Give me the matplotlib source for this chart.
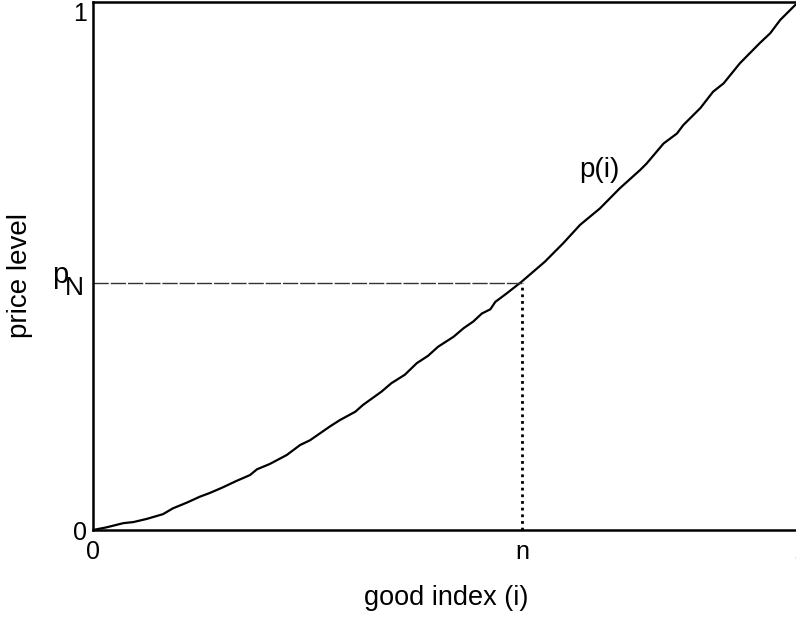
import matplotlib
matplotlib.use("Agg")
import matplotlib.pyplot as plt

# curve p(i) (x: good index 0..1, y: price level 0..1)
good_index = [0.000, 0.019, 0.043, 0.057, 0.076, 0.099, 0.113, 0.133, 0.151, 0.165,
              0.184, 0.203, 0.222, 0.232, 0.250, 0.274, 0.293, 0.307, 0.335, 0.349,
              0.371, 0.382, 0.408, 0.422, 0.441, 0.458, 0.474, 0.488, 0.510, 0.524,
              0.538, 0.550, 0.562, 0.569, 0.585, 0.606, 0.639, 0.665, 0.689, 0.717,
              0.745, 0.774, 0.783, 0.807, 0.826, 0.835, 0.859, 0.877, 0.892, 0.915,
              0.943, 0.958, 0.972, 0.993, 1.000]
price_level = [0.000, 0.005, 0.013, 0.015, 0.021, 0.030, 0.041, 0.052, 0.063, 0.070,
               0.081, 0.093, 0.104, 0.115, 0.125, 0.142, 0.161, 0.170, 0.196, 0.208,
               0.224, 0.237, 0.262, 0.278, 0.294, 0.316, 0.330, 0.347, 0.366, 0.382,
               0.395, 0.410, 0.418, 0.432, 0.448, 0.470, 0.508, 0.543, 0.578, 0.609,
               0.647, 0.682, 0.694, 0.732, 0.751, 0.767, 0.799, 0.830, 0.846, 0.884,
               0.922, 0.941, 0.966, 0.994, 1.000]
n_value = 0.607
p_N = 0.468

x_ticks = [0, n_value, 1]
x_tick_labels = ["0", "n", "1"]
y_ticks = [0, 1]
y_tick_labels = ["0", "1"]

plt.rcParams['font.family'] = ['Liberation Sans', 'DejaVu Sans']

fig = plt.figure(figsize=(7.96, 6.17), dpi=100)
W, H = 796, 617
left, right, bottom, top = 93, 800, 530, 2
ax = fig.add_axes([left / W, (H - bottom) / H, (right - left) / W, (bottom - top) / H])

ax.plot(good_index, price_level, color='black', lw=1.6, solid_joinstyle='round')
ax.plot([0, n_value], [p_N, p_N], color='#333333', lw=1.0, linestyle=(0, (11, 1.4)))
ax.plot([n_value, n_value], [0, p_N], color='black', lw=2.0, linestyle=(0, (1.0, 1.4)))

ax.set_xlim(0, 1)
ax.set_ylim(0, 1)
for s in ['left', 'top', 'bottom']:
    ax.spines[s].set_linewidth(1.8)
ax.spines['right'].set_visible(False)

ax.set_xticks(x_ticks)
ax.set_xticklabels(x_tick_labels, fontsize=18)
ax.set_yticks(y_ticks)
ax.set_yticklabels(y_tick_labels, fontsize=18)
ax.tick_params(axis='both', length=0)
ax.tick_params(axis='x', pad=7)
ax.tick_params(axis='y', pad=4)
ylabs = ax.get_yticklabels()
ylabs[1].set_verticalalignment('top')

ax.set_xlabel("good index (i)", fontsize=19.5, labelpad=15)
fig.text(20 / W, 1 - 338 / H, "price level", rotation=90, fontsize=20,
         ha='center', va='bottom')

fig.text(599 / W, 1 - 170 / H, "p(i)", fontsize=20, ha='center', va='center')
fig.text(52 / W, 1 - 275 / H, "p", fontsize=21, ha='left', va='center')
fig.text(65 / W, 1 - 288 / H, "N", fontsize=19, ha='left', va='center')

fig.savefig("out.png", dpi=100)
